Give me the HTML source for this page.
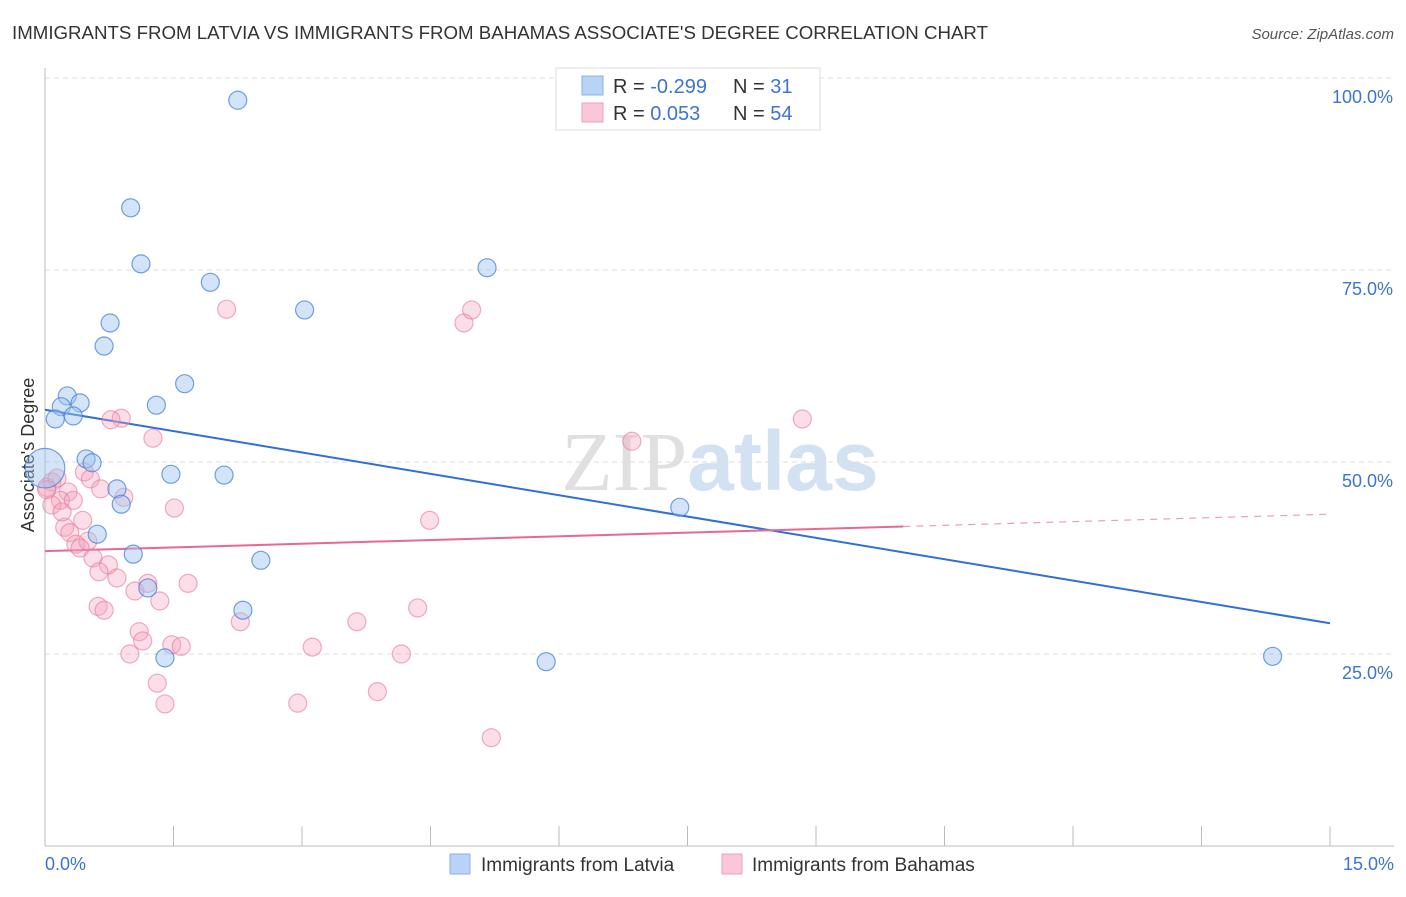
<!DOCTYPE html>
<html><head><meta charset="utf-8"><style>
body{margin:0;background:#fff;font-family:"Liberation Sans",sans-serif;}
svg text{font-family:"Liberation Sans",sans-serif;}
</style></head><body>
<svg id="chart" width="1406" height="892" viewBox="0 0 1406 892" xmlns="http://www.w3.org/2000/svg">
<text x="12" y="39" font-size="18" fill="#333" textLength="976" lengthAdjust="spacingAndGlyphs">IMMIGRANTS FROM LATVIA VS IMMIGRANTS FROM BAHAMAS ASSOCIATE'S DEGREE CORRELATION CHART</text>
<text x="1394" y="39" font-size="15" fill="#555" font-style="italic" text-anchor="end">Source: ZipAtlas.com</text>
<text x="720" y="490" font-size="84" text-anchor="middle"><tspan fill="#e0e0e0" font-family="Liberation Serif">ZIP</tspan><tspan fill="#d3e2f3" font-weight="bold">atlas</tspan></text>
<text transform="translate(34,455) rotate(-90)" font-size="18" fill="#333" text-anchor="middle">Associate's Degree</text>
<g id="grid"></g>
<g id="axes"></g>
<g id="lines"></g>
<g id="points"></g>
<g>
<rect x="556" y="68" width="264" height="62" fill="#fff" stroke="#ddd"/>
<rect x="582" y="76" width="21" height="19" fill="#b8d3f5" stroke="#8ab2e6"/>
<rect x="582" y="103" width="21" height="19" fill="#f9c7d6" stroke="#eea0b8"/>
<text x="613" y="93" font-size="20" fill="#333">R = <tspan fill="#3b74d1">-0.299</tspan></text>
<text x="733" y="93" font-size="20" fill="#333">N = <tspan fill="#3b74d1"> 31</tspan></text>
<text x="613" y="120" font-size="20" fill="#333">R = <tspan fill="#3b74d1"> 0.053</tspan></text>
<text x="733" y="120" font-size="20" fill="#333">N = <tspan fill="#3b74d1">54</tspan></text>
</g>
<g>
<rect x="450" y="854" width="20" height="20" fill="#b8d3f5" stroke="#8ab2e6"/>
<text x="481" y="871" font-size="19" fill="#333">Immigrants from Latvia</text>
<rect x="722" y="854" width="20" height="20" fill="#f9c7d6" stroke="#eea0b8"/>
<text x="752" y="871" font-size="19" fill="#333">Immigrants from Bahamas</text>
</g>
</svg>
<script>
const xTicks=[0,1.5,3,4.5,6,7.5,9,10.5,12,13.5,15];
const yTicks=[25,50,75,100];
const yTickLabels=["25.0%","50.0%","75.0%","100.0%"];
const xEndLabels=["0.0%","15.0%"];
const latviaX=[2.25,1.00,1.12,1.93,5.16,3.03,0.76,0.69,1.63,0.26,0.41,0.19,1.30,0.12,0.33,0.48,0.55,1.47,2.09,0.84,0.89,0.61,1.03,2.52,1.20,2.31,1.40,5.85,7.41,14.33,0.0];
const latviaY=[97.1,83.1,75.8,73.4,75.3,69.8,68.1,65.1,60.2,58.6,57.7,57.2,57.4,55.6,56.0,50.4,49.9,48.4,48.3,46.5,44.5,40.6,38.0,37.2,33.6,30.7,24.5,24.0,44.1,24.7,49.2];
const latviaSize=[1,1,1,1,1,1,1,1,1,1,1,1,1,1,1,1,1,1,1,1,1,1,1,1,1,1,1,1,1,1,2.2];
const bahamasX=[2.12,4.89,4.98,0.89,0.77,1.26,6.85,8.84,0.46,0.08,0.53,0.65,0.27,0.02,0.18,0.08,0.92,0.33,1.51,4.49,0.44,0.23,0.29,0.36,0.50,0.41,0.56,0.74,0.63,0.84,1.05,1.20,1.67,0.62,0.69,1.34,4.35,2.28,3.64,1.10,1.14,1.48,1.59,3.12,0.99,4.16,1.31,3.88,2.95,1.40,5.21,0.14,0.02,0.20];
const bahamasY=[69.9,68.1,69.8,55.7,55.5,53.1,52.7,55.6,48.7,47.4,47.8,46.5,46.1,46.7,45.0,44.4,45.4,45.0,44.0,42.4,42.4,41.5,40.8,39.3,39.7,38.8,37.5,36.6,35.7,34.9,33.2,34.2,34.2,31.2,30.7,31.9,31.0,29.2,29.2,27.9,26.7,26.2,26.0,25.9,25.0,25.0,21.2,20.1,18.6,18.5,14.1,47.9,46.4,43.5];
const latviaTrend=[56.8,29.0];
const bahamasTrend=[38.4,43.2];
const bahamasSolidEnd=10.02;

const NS="http://www.w3.org/2000/svg";
const X0=45,X1=1330,Ytop=78,Ybot=846;
const sx=v=>X0+(v/15)*(X1-X0);
const sy=v=>Ybot-(v/100)*(Ybot-Ytop);
function mk(tag,attrs,parent){const e=document.createElementNS(NS,tag);for(const k in attrs)e.setAttribute(k,attrs[k]);parent.appendChild(e);return e;}
const grid=document.getElementById('grid'),axes=document.getElementById('axes'),lines=document.getElementById('lines'),pts=document.getElementById('points');
yTicks.forEach((t,i)=>{
 const l=mk('line',{x1:X0,x2:1394,y1:sy(t),y2:sy(t),stroke:'#ddd','stroke-dasharray':'5,4'},grid);
 
 
 const tx=mk('text',{x:1393,y:sy(t)+25,'font-size':18,fill:'#3b74d1','text-anchor':'end'},axes);
 tx.textContent=yTickLabels[i];
 
 
});
const ya=mk('line',{x1:X0,x2:X0,y1:68,y2:Ybot,stroke:'#bbb'},axes);


const xa=mk('line',{x1:X0,x2:1394,y1:Ybot,y2:Ybot,stroke:'#bbb'},axes);


xTicks.forEach(t=>{
 const tk=mk('line',{x1:sx(t),x2:sx(t),y1:826,y2:Ybot,stroke:'#bbb'},axes);
 
 
});
[[0,'start',45],[15,'end',1394]].forEach((d,i)=>{
 const tx=mk('text',{x:d[2],y:870,'font-size':18,fill:'#3b74d1','text-anchor':d[1]},axes);
 tx.textContent=xEndLabels[i];
 
 
});
const lt=mk('line',{x1:sx(0),y1:sy(latviaTrend[0]),x2:sx(15),y2:sy(latviaTrend[1]),stroke:'#2f6fd6','stroke-width':2},lines);


const bAt=x=>bahamasTrend[0]+(bahamasTrend[1]-bahamasTrend[0])*x/15;
const bt=mk('line',{x1:sx(0),y1:sy(bahamasTrend[0]),x2:sx(bahamasSolidEnd),y2:sy(bAt(bahamasSolidEnd)),stroke:'#e8688f','stroke-width':2},lines);


const bd=mk('line',{x1:sx(bahamasSolidEnd),y1:sy(bAt(bahamasSolidEnd)),x2:sx(15),y2:sy(bahamasTrend[1]),stroke:'#e8a0b6','stroke-width':1.2,'stroke-dasharray':'7,6'},lines);


bahamasX.forEach((x,i)=>{
 const c=mk('circle',{cx:sx(x),cy:sy(bahamasY[i]),r:9,fill:'rgba(244,160,186,0.35)',stroke:'rgba(232,120,155,0.6)','stroke-width':1.2},pts);
 
 
});
latviaX.forEach((x,i)=>{
 const c=mk('circle',{cx:sx(x),cy:sy(latviaY[i]),r:9*latviaSize[i],fill:'rgba(160,196,240,0.45)',stroke:'rgba(70,130,215,0.75)','stroke-width':1.2},pts);
 
 
});
</script>
</body></html>
